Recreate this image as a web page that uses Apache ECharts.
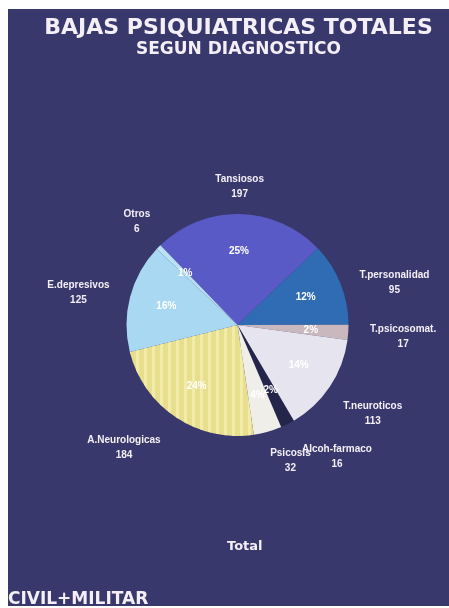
<!DOCTYPE html>
<html>
<head>
<meta charset="utf-8">
<script src="https://cdn.jsdelivr.net/npm/echarts@6/dist/echarts.min.js"></script>
<style>
  html, body { margin: 0; padding: 0; background: #ffffff; overflow: hidden; }
  #chart { position: absolute; left: 8px; top: 9px; width: 441px; height: 597px; }
</style>
</head>
<body>
<div id="chart"></div>
<script>
// Psychiatric leave cases by diagnosis (civil + military)
const categories = ['Tansiosos', 'T.personalidad', 'T.psicosomat.', 'T.neuroticos',
  'Alcoh-farmaco', 'Psicosis', 'A.Neurologicas', 'E.depresivos', 'Otros'];
const values = [197, 95, 17, 113, 16, 32, 184, 125, 6];

const titleText = 'BAJAS PSIQUIATRICAS TOTALES';
const subtitleText = 'SEGUN DIAGNOSTICO';
const footerText = 'CIVIL+MILITAR';
const captionText = 'Total';

// styling
const sliceColors = ['#5a5ac6', '#2f6cb4', '#c9b8bd', '#e6e4ef', '#25254c',
  '#efeee9', '#e7df8e', '#a9d9f2', '#b9e2f7'];
// small per-label nudges so the outer names sit clear of each other
const labelNudge = [[-1, 16], [14, 15], [12, 2], [7, 3], [30, -6], [11, -12], [-28, -5], [-10, 7], [9, 5]];

const bg = '#38386c';
const textWhite = '#f4eef6';
const pieCenter = [229.5, 316];
const pieRadius = 111;

const stripes = {
  symbol: 'rect',
  symbolSize: 1,
  dashArrayX: [3, 5],
  dashArrayY: [8, 0],
  color: 'rgba(250, 246, 190, 0.55)'
};

const pieData = categories.map((name, i) => ({
  name: name,
  value: values[i],
  itemStyle: i === 6 ? { color: sliceColors[i], decal: stripes } : { color: sliceColors[i] }
}));

const percentData = categories.map((name, i) => ({ name: name, value: values[i] }));

const nameData = categories.map((name, i) => ({
  name: name,
  value: values[i],
  label: { offset: labelNudge[i] }
}));

const chart = echarts.init(document.getElementById('chart'), null, { renderer: 'canvas' });

chart.setOption({
  backgroundColor: bg,
  animation: false,
  title: [
    {
      text: titleText,
      subtext: subtitleText,
      left: 230.5,
      top: 8,
      padding: 0,
      textAlign: 'center',
      itemGap: 2,
      textStyle: { color: textWhite, fontFamily: 'DejaVu Sans', fontWeight: 'bold', fontSize: 22 },
      subtextStyle: { color: textWhite, fontFamily: 'DejaVu Sans', fontWeight: 'bold', fontSize: 17 }
    },
    {
      text: footerText,
      left: 0,
      bottom: -2,
      padding: 0,
      textStyle: { color: textWhite, fontFamily: 'DejaVu Sans', fontWeight: 'bold', fontSize: 17 }
    },
    {
      text: captionText,
      left: 219,
      top: 531,
      padding: 0,
      textStyle: { color: textWhite, fontFamily: 'DejaVu Sans', fontWeight: 'bold', fontSize: 13 }
    }
  ],
  series: [
    {
      // the pie itself
      type: 'pie',
      center: pieCenter,
      radius: pieRadius,
      startAngle: 134,
      clockwise: true,
      silent: true,
      avoidLabelOverlap: false,
      label: { show: false },
      labelLine: { show: false },
      data: pieData
    },
    {
      // percentage labels inside the slices
      type: 'pie',
      center: pieCenter,
      radius: [30, pieRadius],
      startAngle: 134,
      clockwise: true,
      silent: true,
      avoidLabelOverlap: false,
      percentPrecision: 0,
      itemStyle: { color: 'rgba(0,0,0,0)' },
      label: {
        show: true,
        position: 'inside',
        formatter: '{d}%',
        color: '#ffffff',
        fontFamily: 'Liberation Sans',
        fontWeight: 'bold',
        fontSize: 10
      },
      labelLine: { show: false },
      labelLayout: { hideOverlap: false },
      data: percentData
    },
    {
      // category names and counts around the pie
      type: 'pie',
      center: pieCenter,
      radius: [138, 164],
      startAngle: 134,
      clockwise: true,
      silent: true,
      avoidLabelOverlap: false,
      itemStyle: { color: 'rgba(0,0,0,0)' },
      label: {
        show: true,
        position: 'inside',
        formatter: '{b}\n{c}',
        color: textWhite,
        fontFamily: 'Liberation Sans',
        fontWeight: 'bold',
        fontSize: 10,
        lineHeight: 15
      },
      labelLine: { show: false },
      labelLayout: { hideOverlap: false },
      data: nameData
    }
  ]
});
</script>
</body>
</html>
